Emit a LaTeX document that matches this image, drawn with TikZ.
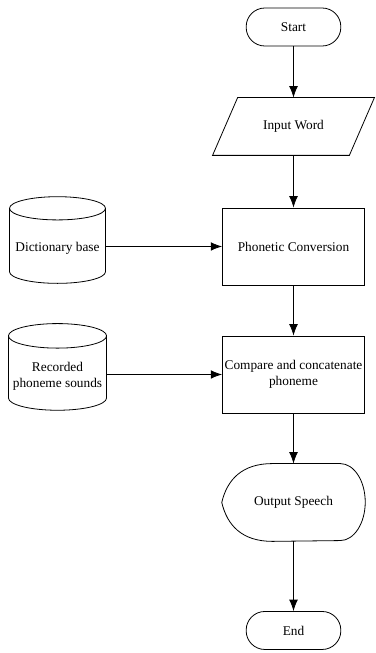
\documentclass[tikz,border=0pt]{standalone}
\usepackage{fontspec}
\setmainfont{Liberation Serif}
\usetikzlibrary{arrows.meta}
\usetikzlibrary{positioning}
\usetikzlibrary{calc}
\usetikzlibrary{shapes.geometric}
\tikzset{
    terminal/.style={rectangle,draw,rounded corners=14pt,minimum width=71pt,minimum height=28.5pt},
    process/.style={rectangle,draw,align=center,inner sep=1pt,minimum width=106.5pt,minimum height=57.75pt},
    inout/.style={rectangle,align=center,minimum width=102pt,minimum height=42.75pt},
    store/.style={cylinder,shape border rotate=90,draw,aspect=0.25,align=center,minimum width=72pt,minimum height=65pt},
    display/.style={rectangle,align=center,minimum width=107pt,minimum height=57.75pt},
  }

\begin{document}
\begin{tikzpicture}[->,>={Latex[length=8.5pt,width=6.5pt]},semithick,node distance=96pt]
  \useasboundingbox (0,0) rectangle (281.25pt,-489.75pt);
  \node[terminal] (start) at (220.125pt,-20.25pt) {Start};
  \node[inout] (input) [below of=start,node distance=74.6pt] {Input Word};
  \node[process] (phon) [below of=input,node distance=90pt] {Phonetic Conversion};
  \node[process] (comp) [below of=phon] {Compare and concatenate\\phoneme};
  \node[display] (out) [below of=comp] {Output Speech};
  \node[terminal] (end) [below of=out] {End};
  \node[store] (dict) [left of=phon,node distance=177pt,yshift=-1.5pt] {Dictionary base};
  \node[store] (rec) [left of=comp,node distance=177pt,yshift=-1pt] {Recorded\\phoneme sounds};

  % parallelogram round the input word
  \draw[-] ($(input.south west)+(-9.4pt,0)$) -- ($(input.north west)+(9.4pt,0)$)
    -- ($(input.north east)+(9.4pt,0)$) -- ($(input.south east)+(-9.4pt,0)$) -- cycle;
  % display shape for the speech output
  \draw[-] (out.west) .. controls ($(out.west)+(4pt,17pt)$) and ($(out.north west)+(15pt,0)$) .. ($(out.north west)+(38pt,0)$)
    -- ($(out.north east)+(-18.75pt,0)$)
    arc[start angle=90,end angle=-90,x radius=18.75pt,y radius=28.875pt]
    -- ($(out.south west)+(38pt,0)$)
    .. controls ($(out.south west)+(15pt,0)$) and ($(out.west)+(4pt,-17pt)$) .. (out.west);

  \draw (start) -- (input);
  \draw (input) -- (phon);
  \draw (phon) -- (comp);
  \draw (comp) -- (out);
  \draw (out) -- (end);
  \draw (dict.east |- phon) -- (phon);
  \draw (rec.east |- comp) -- (comp);
\end{tikzpicture}
\end{document}
